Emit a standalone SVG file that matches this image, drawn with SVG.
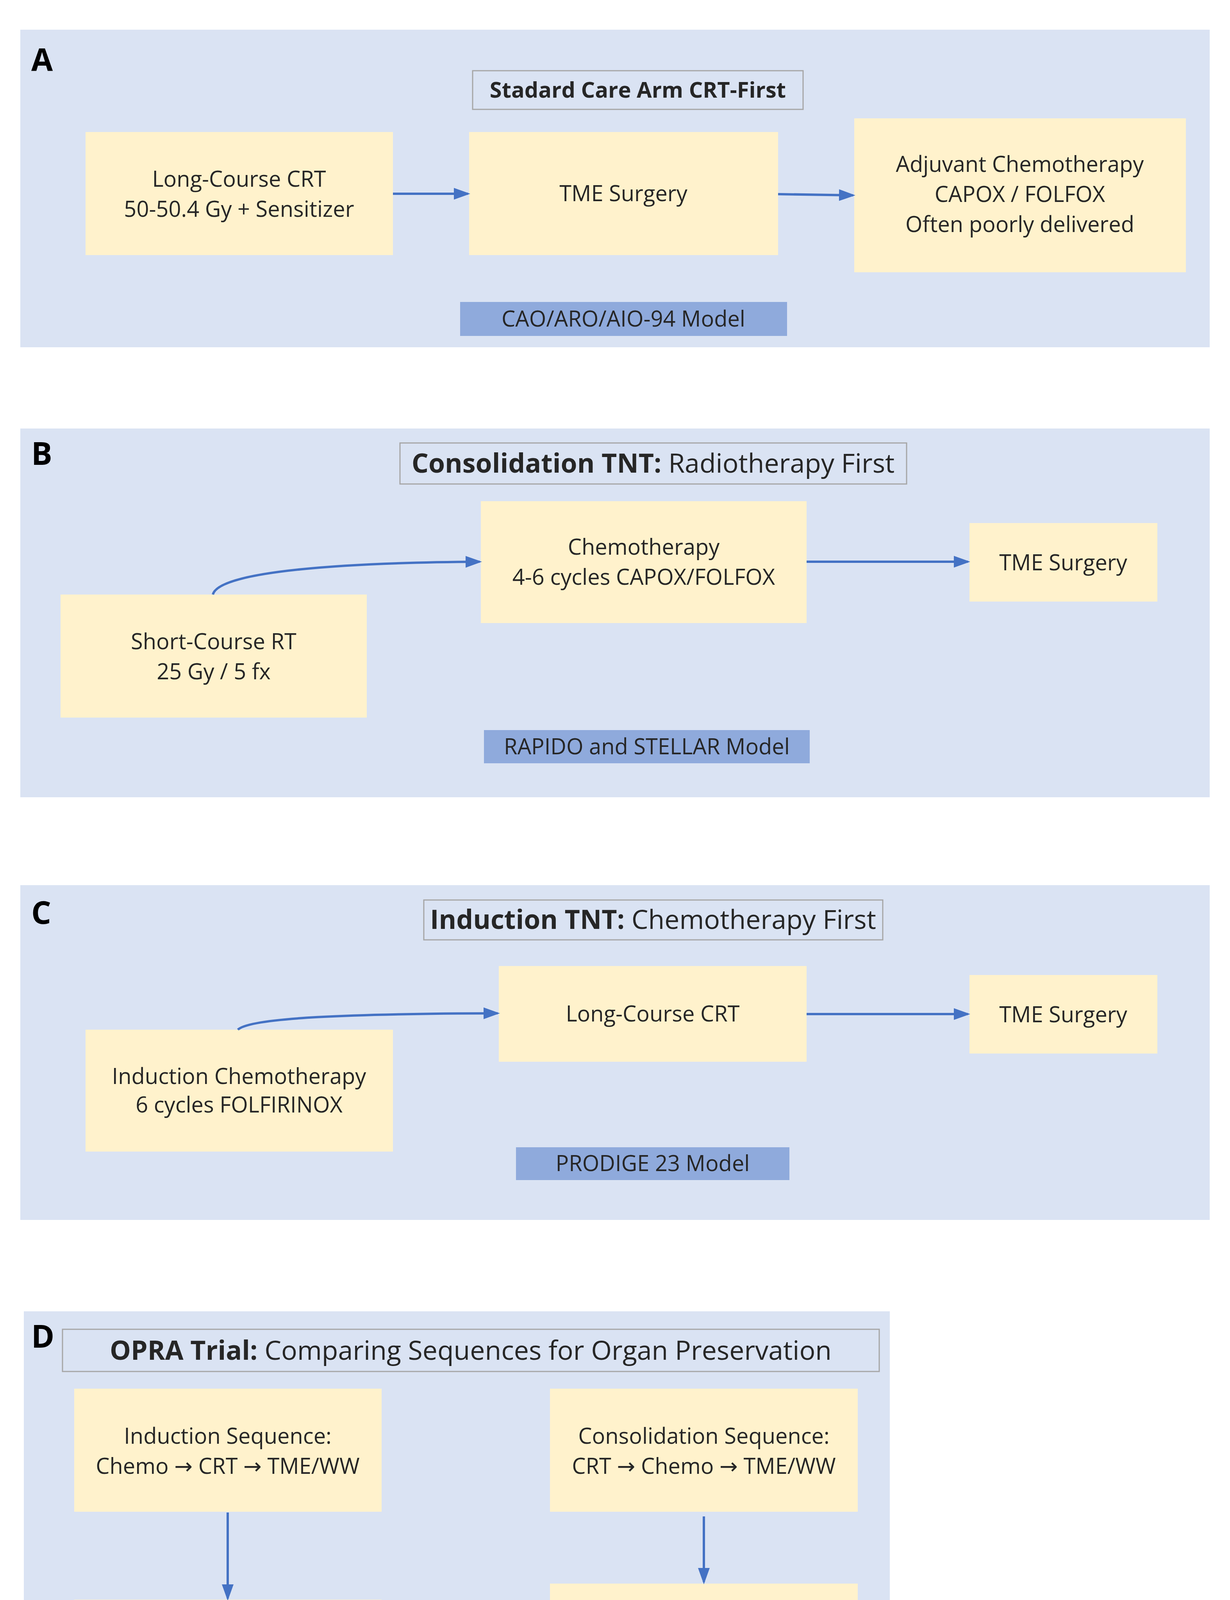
<svg xmlns="http://www.w3.org/2000/svg" width="3149" height="4550" viewBox="0 0 3149 4550">
<style>
.panel{fill:#dae3f3}
.box{fill:#fff2cc}
.bar{fill:#8faadc}
.tbox{fill:#dae3f3;stroke:#a6a6a6;stroke-width:3}
text{font-family:"Open Sans","Noto Sans","DejaVu Sans",sans-serif;fill:#262626;text-anchor:middle}
.t{font-size:56px}
.h{font-size:68px}
.b{font-weight:bold}
.L{font-size:80px;font-weight:bold;text-anchor:start;fill:#000}
.c{fill:none;stroke:#4472c4;stroke-width:6;marker-end:url(#ah)}
</style>
<defs><marker id="ah" markerWidth="7" markerHeight="7" refX="6" refY="3.5" orient="auto" markerUnits="strokeWidth"><path d="M0,1 L7,3.5 L0,6 z" fill="#4472c4"/></marker></defs>
<rect width="3149" height="4550" fill="#fff"/>
<g id="panelA">
<rect class="panel" x="52" y="76" width="3045" height="813"/>
<text class="L" x="80" y="182">A</text>
<rect class="tbox" x="1210" y="181" width="846" height="99"/>
<text class="t b" x="1633" y="250" font-size="64">Stadard Care Arm CRT-First</text>
</g>
<g id="a1"><rect class="box" x="219" y="338" width="787" height="315"/><text class="t" x="612" y="478">Long-Course CRT</text><text class="t" x="612" y="555">50-50.4 Gy + Sensitizer</text></g>
<g id="a2"><rect class="box" x="1201" y="338" width="791" height="315"/><text class="t" x="1596" y="515">TME Surgery</text></g>
<g id="a3"><rect class="box" x="2187" y="303" width="849" height="394"/><text class="t" x="2611" y="440">Adjuvant Chemotherapy</text><text class="t" x="2611" y="517">CAPOX / FOLFOX</text><text class="t" x="2611" y="594">Often poorly delivered</text></g>
<g id="a4"><rect class="bar" x="1178" y="773" width="837" height="87"/><text class="t" x="1596" y="836">CAO/ARO/AIO-94 Model</text></g>

<g id="panelB">
<rect class="panel" x="52" y="1097" width="3045" height="944"/>
<text class="L" x="80" y="1190">B</text>
<rect class="tbox" x="1024" y="1134" width="1297" height="105"/>
<text class="h" x="1672" y="1210"><tspan class="b">Consolidation TNT:</tspan> Radiotherapy First</text>
</g>
<g id="b1"><rect class="box" x="1231" y="1283" width="834" height="312"/><text class="t" x="1648" y="1420">Chemotherapy</text><text class="t" x="1648" y="1497">4-6 cycles CAPOX/FOLFOX</text></g>
<g id="b2"><rect class="box" x="2482" y="1339" width="481" height="201"/><text class="t" x="2722" y="1460">TME Surgery</text></g>
<g id="b3"><rect class="box" x="155" y="1522" width="784" height="315"/><text class="t" x="547" y="1662">Short-Course RT</text><text class="t" x="547" y="1739">25 Gy / 5 fx</text></g>
<g id="b4"><rect class="bar" x="1239" y="1869" width="834" height="85"/><text class="t" x="1656" y="1931">RAPIDO and STELLAR Model</text></g>

<g id="panelC">
<rect class="panel" x="52" y="2266" width="3045" height="857"/>
<text class="L" x="80" y="2365">C</text>
<rect class="tbox" x="1085" y="2304" width="1175" height="102"/>
<text class="h" x="1672" y="2378"><tspan class="b">Induction TNT:</tspan> Chemotherapy First</text>
</g>
<g id="c1"><rect class="box" x="1277" y="2473" width="788" height="245"/><text class="t" x="1671" y="2615">Long-Course CRT</text></g>
<g id="c2"><rect class="box" x="2482" y="2496" width="481" height="201"/><text class="t" x="2722" y="2617">TME Surgery</text></g>
<g id="c3"><rect class="box" x="219" y="2636" width="787" height="312"/><text class="t" x="612" y="2775">Induction Chemotherapy</text><text class="t" x="612" y="2848">6 cycles FOLFIRINOX</text></g>
<g id="c4"><rect class="bar" x="1321" y="2937" width="700" height="84"/><text class="t" x="1671" y="2998">PRODIGE 23 Model</text></g>

<g id="panelD">
<rect class="panel" x="61" y="3357" width="2217" height="1158"/>
<text class="L" x="80" y="3450">D</text>
<rect class="tbox" x="160" y="3403" width="2091" height="108"/>
<text class="h" x="1205" y="3481"><tspan class="b">OPRA Trial:</tspan> Comparing Sequences for Organ Preservation</text>
</g>
<g id="d1"><rect class="box" x="190" y="3555" width="787" height="315"/><text class="t" x="583" y="3696">Induction Sequence:</text><text class="t" x="583" y="3773">Chemo → CRT → TME/WW</text></g>
<g id="d2"><rect class="box" x="1408" y="3555" width="788" height="315"/><text class="t" x="1802" y="3696">Consolidation Sequence:</text><text class="t" x="1802" y="3773">CRT → Chemo → TME/WW</text></g>
<g id="d3"><rect class="box" x="190" y="4095" width="787" height="230"/><text class="t b" x="583" y="4230">→ 39% 5-year TME-free</text></g>
<g id="d4"><rect class="box" x="1408" y="4054" width="788" height="312"/><text class="t b" x="1802" y="4193">→ 54% 5-year TME-free</text><text class="t" x="1802" y="4270">Superior for preservation</text></g>

<g id="connectors">
<path class="c" d="M1006,496 L1198,496"/>
<path class="c" d="M1992,497 L2184,500"/>
<path class="c" d="M545,1522 C560,1460 900,1440 1228,1438"/>
<path class="c" d="M2065,1438 L2478,1438"/>
<path class="c" d="M609,2636 C640,2605 900,2595 1274,2594"/>
<path class="c" d="M2065,2596 L2478,2596"/>
<path class="c" d="M583,3872 L583,4092"/>
<path class="c" d="M1802,3882 L1802,4050"/>
</g>
</svg>
